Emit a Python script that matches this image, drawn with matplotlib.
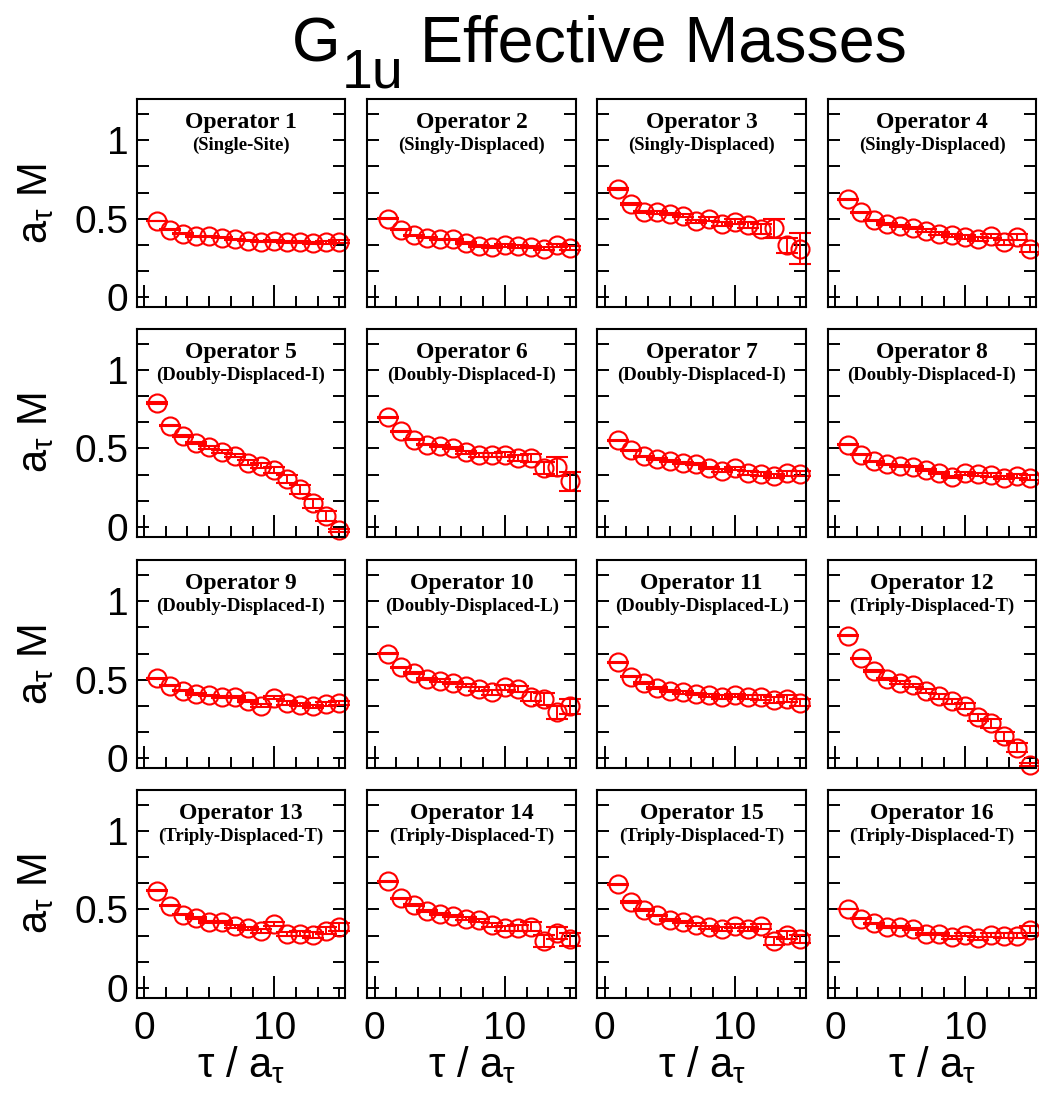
import matplotlib
matplotlib.use('Agg')
import matplotlib.pyplot as plt
from matplotlib.ticker import FixedLocator, MultipleLocator

plt.rcParams['font.family'] = ['Liberation Sans', 'DejaVu Sans']
plt.rcParams['mathtext.fontset'] = 'custom'
plt.rcParams['mathtext.rm'] = 'Liberation Sans'
plt.rcParams['mathtext.it'] = 'Liberation Sans:italic'

#####
# data
#####
tau = [1, 2, 3, 4, 5, 6, 7, 8, 9, 10, 11, 12, 13, 14, 15]

op_names = ['Operator 1', 'Operator 2', 'Operator 3', 'Operator 4',
            'Operator 5', 'Operator 6', 'Operator 7', 'Operator 8',
            'Operator 9', 'Operator 10', 'Operator 11', 'Operator 12',
            'Operator 13', 'Operator 14', 'Operator 15', 'Operator 16']
op_types = ['(Single-Site)', '(Singly-Displaced)', '(Singly-Displaced)', '(Singly-Displaced)',
            '(Doubly-Displaced-I)', '(Doubly-Displaced-I)', '(Doubly-Displaced-I)', '(Doubly-Displaced-I)',
            '(Doubly-Displaced-I)', '(Doubly-Displaced-L)', '(Doubly-Displaced-L)', '(Triply-Displaced-T)',
            '(Triply-Displaced-T)', '(Triply-Displaced-T)', '(Triply-Displaced-T)', '(Triply-Displaced-T)']

m1 = [0.485, 0.43, 0.405, 0.39, 0.39, 0.38, 0.37, 0.36, 0.355, 0.36, 0.355, 0.355, 0.345, 0.35, 0.355]
m2 = [0.50, 0.43, 0.395, 0.38, 0.37, 0.37, 0.345, 0.325, 0.32, 0.33, 0.325, 0.32, 0.31, 0.33, 0.315]
m3 = [0.69, 0.595, 0.545, 0.54, 0.53, 0.52, 0.485, 0.50, 0.465, 0.48, 0.46, 0.435, 0.44, 0.33, 0.31]
m4 = [0.625, 0.54, 0.49, 0.465, 0.455, 0.44, 0.425, 0.405, 0.395, 0.385, 0.37, 0.39, 0.35, 0.385, 0.31]
m5 = [0.79, 0.645, 0.578, 0.535, 0.507, 0.48, 0.455, 0.41, 0.39, 0.365, 0.305, 0.24, 0.15, 0.07, -0.02]
m6 = [0.70, 0.61, 0.557, 0.525, 0.515, 0.503, 0.475, 0.46, 0.46, 0.46, 0.44, 0.44, 0.375, 0.385, 0.29]
m7 = [0.552, 0.49, 0.45, 0.433, 0.42, 0.407, 0.40, 0.375, 0.358, 0.375, 0.343, 0.336, 0.325, 0.343, 0.338]
m8 = [0.525, 0.46, 0.418, 0.40, 0.39, 0.385, 0.364, 0.343, 0.32, 0.343, 0.336, 0.332, 0.315, 0.325, 0.315]
m9 = [0.51, 0.463, 0.43, 0.41, 0.40, 0.39, 0.39, 0.367, 0.335, 0.385, 0.352, 0.342, 0.33, 0.346, 0.352]
m10 = [0.665, 0.58, 0.543, 0.505, 0.495, 0.478, 0.463, 0.44, 0.42, 0.452, 0.44, 0.393, 0.378, 0.293, 0.33]
m11 = [0.61, 0.52, 0.48, 0.445, 0.43, 0.42, 0.41, 0.40, 0.39, 0.40, 0.39, 0.39, 0.37, 0.38, 0.355]
m12 = [0.78, 0.636, 0.557, 0.507, 0.482, 0.465, 0.428, 0.394, 0.362, 0.332, 0.26, 0.223, 0.14, 0.068, -0.04]
m13 = [0.62, 0.525, 0.468, 0.447, 0.42, 0.42, 0.394, 0.38, 0.362, 0.408, 0.345, 0.345, 0.338, 0.366, 0.387]
m14 = [0.68, 0.57, 0.53, 0.49, 0.47, 0.46, 0.44, 0.43, 0.40, 0.38, 0.38, 0.39, 0.30, 0.35, 0.31]
m15 = [0.66, 0.547, 0.498, 0.462, 0.434, 0.42, 0.404, 0.387, 0.377, 0.394, 0.377, 0.394, 0.298, 0.34, 0.313]
m16 = [0.504, 0.44, 0.413, 0.387, 0.387, 0.377, 0.345, 0.345, 0.323, 0.34, 0.317, 0.34, 0.334, 0.334, 0.372]

e1 = [0.002, 0.002, 0.002, 0.003, 0.003, 0.003, 0.004, 0.004, 0.005, 0.005, 0.006, 0.006, 0.007, 0.008, 0.009]
e2 = [0.002, 0.002, 0.003, 0.003, 0.004, 0.004, 0.005, 0.005, 0.006, 0.007, 0.008, 0.009, 0.01, 0.011, 0.012]
e3 = [0.004, 0.005, 0.006, 0.007, 0.008, 0.009, 0.01, 0.012, 0.014, 0.016, 0.02, 0.03, 0.06, 0.05, 0.10]
e4 = [0.003, 0.004, 0.004, 0.005, 0.006, 0.007, 0.008, 0.009, 0.01, 0.011, 0.012, 0.014, 0.016, 0.02, 0.02]
e5 = [0.004, 0.005, 0.006, 0.007, 0.008, 0.01, 0.012, 0.014, 0.016, 0.02, 0.025, 0.028, 0.03, 0.03, 0.01]
e6 = [0.003, 0.004, 0.005, 0.006, 0.007, 0.008, 0.01, 0.012, 0.014, 0.016, 0.02, 0.025, 0.04, 0.06, 0.06]
e7 = [0.003, 0.003, 0.004, 0.005, 0.005, 0.006, 0.007, 0.008, 0.009, 0.01, 0.011, 0.012, 0.014, 0.015, 0.016]
e8 = [0.002, 0.003, 0.003, 0.004, 0.005, 0.005, 0.006, 0.007, 0.008, 0.009, 0.01, 0.011, 0.012, 0.013, 0.014]
e9 = [0.002, 0.003, 0.003, 0.004, 0.005, 0.005, 0.006, 0.007, 0.008, 0.009, 0.01, 0.011, 0.012, 0.013, 0.015]
e10 = [0.003, 0.004, 0.005, 0.006, 0.007, 0.008, 0.01, 0.012, 0.014, 0.016, 0.02, 0.03, 0.04, 0.04, 0.045]
e11 = [0.003, 0.004, 0.005, 0.006, 0.007, 0.008, 0.009, 0.01, 0.011, 0.012, 0.014, 0.016, 0.02, 0.02, 0.02]
e12 = [0.004, 0.005, 0.006, 0.007, 0.008, 0.01, 0.012, 0.014, 0.016, 0.02, 0.025, 0.028, 0.03, 0.03, 0.01]
e13 = [0.003, 0.004, 0.005, 0.006, 0.007, 0.008, 0.009, 0.01, 0.011, 0.012, 0.014, 0.016, 0.018, 0.025, 0.025]
e14 = [0.003, 0.004, 0.005, 0.006, 0.007, 0.008, 0.01, 0.012, 0.014, 0.016, 0.02, 0.03, 0.04, 0.04, 0.04]
e15 = [0.003, 0.004, 0.005, 0.006, 0.007, 0.008, 0.009, 0.01, 0.011, 0.012, 0.014, 0.016, 0.025, 0.025, 0.025]
e16 = [0.002, 0.003, 0.004, 0.005, 0.005, 0.006, 0.007, 0.008, 0.009, 0.01, 0.011, 0.012, 0.014, 0.016, 0.02]

masses = [m1, m2, m3, m4, m5, m6, m7, m8, m9, m10, m11, m12, m13, m14, m15, m16]
errors = [e1, e2, e3, e4, e5, e6, e7, e8, e9, e10, e11, e12, e13, e14, e15, e16]

#####
# layout (pixels of the 1039x1097 canvas)
#####
W, H = 1039.0, 1097.0
col_left = [136.7, 367.3, 597.3, 827.7]
row_top = [99.3, 329.0, 560.3, 790.0]
pw, ph = 208.7, 207.5

fig = plt.figure(figsize=(W / 100, H / 100), dpi=100)

for k in range(16):
	r, c = divmod(k, 4)
	ax = fig.add_axes([col_left[c] / W, 1 - (row_top[r] + ph) / H, pw / W, ph / H])
	ax.errorbar(tau, masses[k], yerr=errors[k], fmt='o', color='red',
				mfc='none', mec='red', ms=13, mew=1.5,
				ecolor='red', elinewidth=1.4, capsize=8, capthick=2.0, clip_on=False)
	ax.set_xlim(-0.57, 15.47)
	ax.set_ylim(-0.06, 1.26)
	ax.xaxis.set_major_locator(FixedLocator([0, 10]))
	ax.xaxis.set_minor_locator(MultipleLocator(10 / 6))
	ax.yaxis.set_major_locator(FixedLocator([0, 0.5, 1]))
	ax.yaxis.set_minor_locator(MultipleLocator(1 / 6))
	ax.tick_params(axis='x', which='both', direction='in', top=False, bottom=True, width=1.4)
	ax.tick_params(axis='x', which='major', length=16, pad=10, labelsize=28)
	ax.tick_params(axis='x', which='minor', length=8)
	ax.tick_params(axis='y', which='both', direction='in', left=True, right=True,
				   length=8.5, width=1.4, pad=6, labelsize=28)
	ax.set_xticklabels(['0', '10'])
	ax.set_yticklabels(['0', '0.5', '1'])
	if c != 0:
		ax.tick_params(labelleft=False)
	if r != 3:
		ax.tick_params(labelbottom=False)
	for sp in ax.spines.values():
		sp.set_linewidth(1.5)
	ax.text(0.5, 0.86, op_names[k], transform=ax.transAxes, ha='center', va='baseline',
			family='Liberation Serif', weight='bold', fontsize=17)
	ax.text(0.5, 0.755, op_types[k], transform=ax.transAxes, ha='center', va='baseline',
			family='Liberation Serif', weight='bold', fontsize=13.5)

# y labels
for r in range(4):
	yc = 1 - (row_top[r] + ph / 2) / H
	fig.text(36 / W, yc, r'$\mathregular{a_{\tau}\ M}$', rotation=90,
			 ha='center', va='center', fontsize=30)

# x labels
for c in range(4):
	fig.text((col_left[c] + pw / 2) / W, 1 - 1077 / H, r'$\mathregular{\tau\ /\ a_{\tau}}$',
			 ha='center', va='baseline', fontsize=30)

# title
fig.text(292 / W, 1 - 62 / H, 'G', ha='left', va='baseline', fontsize=45)
fig.text(342 / W, 1 - 87 / H, '1u', ha='left', va='baseline', fontsize=40)
fig.text(420 / W, 1 - 62 / H, 'Effective Masses', ha='left', va='baseline', fontsize=46.5)

fig.savefig('out.png', dpi=100)
